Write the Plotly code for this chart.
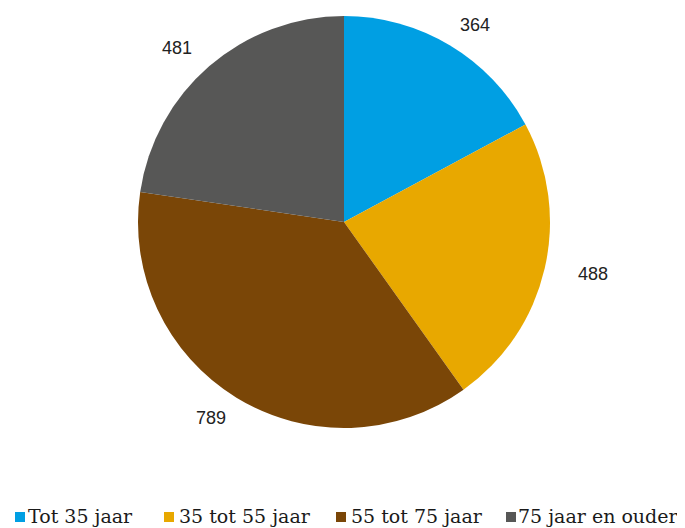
import math
import plotly.graph_objects as go

categories = ["Tot 35 jaar", "35 tot 55 jaar", "55 tot 75 jaar", "75 jaar en ouder"]
values = [364, 488, 789, 481]
colors = ["#009FE3", "#E8A800", "#7A4607", "#575756"]

W, H = 685, 528
cx, cy, R = 336, 214, 206  # pie centre and radius in pixels (figure coords)

def px(x):
    return x / W

def py(y):
    return 1 - y / H

fig = go.Figure(go.Pie(
    labels=categories, values=values, sort=False, direction="clockwise",
    rotation=0, marker=dict(colors=colors, line=dict(width=0)),
    textinfo="none", hoverinfo="label+value", showlegend=False,
    domain=dict(x=[px(cx - R), px(cx + R)], y=[py(cy + R), py(cy - R)]),
))

# value labels outside each slice, along its mid angle
rx, ry = R * 1.24, R * 1.115
total = sum(values)
cum = 0
anns = []
for v in values:
    mid = (cum + v / 2) / total * 2 * math.pi
    cum += v
    anns.append(dict(x=px(cx + rx * math.sin(mid)), y=py(cy - ry * math.cos(mid)),
                     xref="paper", yref="paper", xanchor="center", yanchor="middle",
                     text=str(v), showarrow=False,
                     font=dict(family="Liberation Sans, Arial", size=18, color="#222222")))

# legend (squares + text, one row at the bottom)
leg_sq_x = [7, 156, 328, 498]
leg_txt_x = [18, 169, 341, 508]
leg_y = 509
sq = 10
shapes = []
for i, (lab, col) in enumerate(zip(categories, colors)):
    x0 = leg_sq_x[i]
    shapes.append(dict(type="rect", xref="paper", yref="paper",
                       x0=px(x0), x1=px(x0 + sq), y0=py(leg_y + sq / 2), y1=py(leg_y - sq / 2),
                       fillcolor=col, line=dict(width=0)))
    anns.append(dict(x=px(leg_txt_x[i]), y=py(leg_y - 1), xref="paper", yref="paper",
                     xanchor="left", yanchor="middle", text=lab, showarrow=False,
                     font=dict(family="DejaVu Serif", size=19, color="#1a1a1a")))

fig.update_layout(
    width=W, height=H, margin=dict(l=0, r=0, t=0, b=0),
    paper_bgcolor="white", plot_bgcolor="white",
    annotations=anns, shapes=shapes, showlegend=False,
)
fig.write_html("out.html")
